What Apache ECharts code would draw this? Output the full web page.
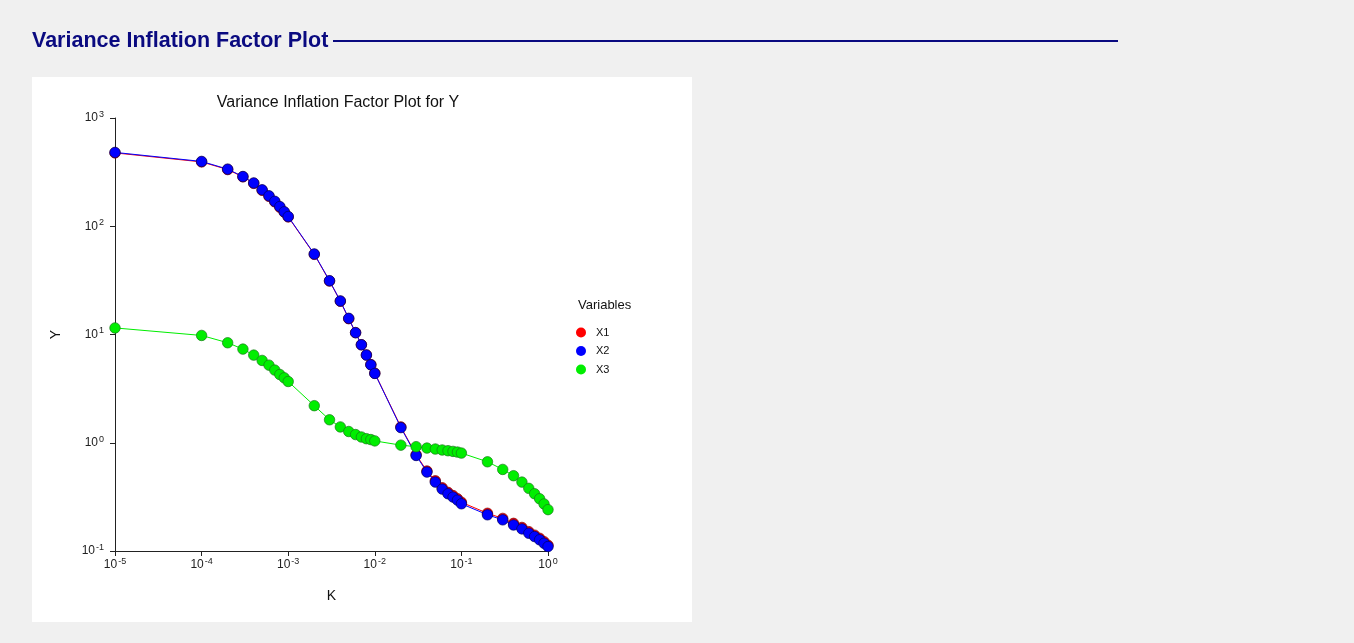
<!DOCTYPE html>
<html>
<head>
<meta charset="utf-8">
<script src="https://cdn.jsdelivr.net/npm/echarts@6/dist/echarts.min.js"></script>
<style>
html,body{margin:0;padding:0;background:#f0f0f0;}
#c{width:1354px;height:643px;}
</style>
</head>
<body>
<div id="c"></div>
<script>
const kValues = [0.00001, 0.0001, 0.0002, 0.0003, 0.0004, 0.0005, 0.0006, 0.0007, 0.0008, 0.0009, 0.001,
  0.002, 0.003, 0.004, 0.005, 0.006, 0.007, 0.008, 0.009, 0.01,
  0.02, 0.03, 0.04, 0.05, 0.06, 0.07, 0.08, 0.09, 0.1,
  0.2, 0.3, 0.4, 0.5, 0.6, 0.7, 0.8, 0.9, 1.0];
const x1Vif = [476, 393, 334, 286, 249, 215, 189, 168, 150, 135, 122,
  55.0, 31.2, 20.3, 14.0, 10.4, 8.04, 6.47, 5.27, 4.39,
  1.40, 0.775, 0.548, 0.445, 0.384, 0.348, 0.325, 0.304, 0.282,
  0.223, 0.200, 0.180, 0.165, 0.151, 0.140, 0.131, 0.122, 0.113];
const x2Vif = [481, 397, 337, 288, 251, 217, 191, 170, 152, 136, 123,
  55.4, 31.4, 20.4, 14.1, 10.4, 8.04, 6.46, 5.25, 4.37,
  1.38, 0.763, 0.536, 0.433, 0.373, 0.338, 0.315, 0.295, 0.273,
  0.216, 0.194, 0.174, 0.160, 0.146, 0.136, 0.127, 0.118, 0.110];
const x3Vif = [11.5, 9.8, 8.39, 7.33, 6.45, 5.76, 5.21, 4.69, 4.27, 3.98, 3.68,
  2.20, 1.63, 1.40, 1.27, 1.19, 1.13, 1.09, 1.07, 1.04,
  0.95, 0.92, 0.893, 0.875, 0.857, 0.844, 0.832, 0.820, 0.803,
  0.667, 0.567, 0.496, 0.433, 0.379, 0.338, 0.304, 0.272, 0.241];
const seriesNames = ['X1', 'X2', 'X3'];
const seriesColors = ['#ff0000', '#0000ff', '#00ee00'];
const borderColors = ['#800000', '#000060', '#1a7a1a'];

const FONT = 'Liberation Sans, Arial, sans-serif';
function powLabel(v) {
  const e = Math.round(Math.log10(v));
  return '{b|10}{s|' + e + '}';
}
const rich = {
  b: {fontSize: 12, fontFamily: FONT, color: '#222'},
  s: {fontSize: 9, fontFamily: FONT, color: '#222', padding: [0, 0, 7, 1]}
};

const vals = [x1Vif, x2Vif, x3Vif];
const series = seriesNames.map((n, i) => ({
  name: n,
  type: 'line',
  data: kValues.map((k, j) => [k, vals[i][j]]),
  symbol: 'circle',
  symbolSize: 10.5,
  lineStyle: {color: seriesColors[i], width: 1},
  itemStyle: {color: seriesColors[i], borderColor: borderColors[i], borderWidth: 0.7},
  emphasis: {disabled: true},
  z: 2 + i
}));

const chart = echarts.init(document.getElementById('c'), null, {renderer: 'canvas'});
chart.setOption({
  backgroundColor: '#f0f0f0',
  animation: false,
  graphic: [
    {type: 'rect', shape: {x: 32, y: 77, width: 660, height: 545}, style: {fill: '#ffffff'}, z: -10},
    {type: 'text', left: 32, top: 30, style: {text: 'Variance Inflation Factor Plot', font: 'bold 21.5px ' + FONT, fill: '#0a0a80'}},
    {type: 'rect', shape: {x: 333, y: 40, width: 785, height: 2}, style: {fill: '#0a0a80'}},
    {type: 'text', left: 578, top: 299, style: {text: 'Variables', font: '13px ' + FONT, fill: '#111'}}
  ],
  title: {
    text: 'Variance Inflation Factor Plot for Y',
    left: 333, top: 90, textAlign: 'center',
    textStyle: {fontSize: 16, fontWeight: 'normal', fontFamily: FONT, color: '#111'}
  },
  legend: {
    orient: 'vertical', left: 571, top: 322,
    itemWidth: 10, itemHeight: 10, itemGap: 7.5, icon: 'circle',
    itemStyle: {borderWidth: 0},
    textStyle: {fontSize: 11, fontFamily: FONT, color: '#111', padding: [0, 0, 0, 5]},
    data: seriesNames
  },
  grid: {left: 115, right: 806, top: 118, bottom: 92, containLabel: false},
  xAxis: {
    type: 'log', logBase: 10, min: 0.00001, max: 1,
    name: 'K', nameLocation: 'middle', nameGap: 38,
    nameTextStyle: {fontSize: 14, fontFamily: FONT, color: '#111'},
    axisLine: {lineStyle: {color: '#222'}},
    axisTick: {show: true, length: 5, lineStyle: {color: '#222'}},
    minorTick: {show: false},
    splitLine: {show: false},
    axisLabel: {formatter: powLabel, rich: rich, margin: 6}
  },
  yAxis: {
    type: 'log', logBase: 10, min: 0.1, max: 1000,
    name: 'Y', nameLocation: 'middle', nameGap: 52, nameRotate: 90,
    nameTextStyle: {fontSize: 14, fontFamily: FONT, color: '#111'},
    axisLine: {show: true, lineStyle: {color: '#222'}},
    axisTick: {show: true, length: 5, lineStyle: {color: '#222'}},
    splitLine: {show: false},
    axisLabel: {formatter: powLabel, rich: rich, margin: 11}
  },
  series: series
});
</script>
</body>
</html>
